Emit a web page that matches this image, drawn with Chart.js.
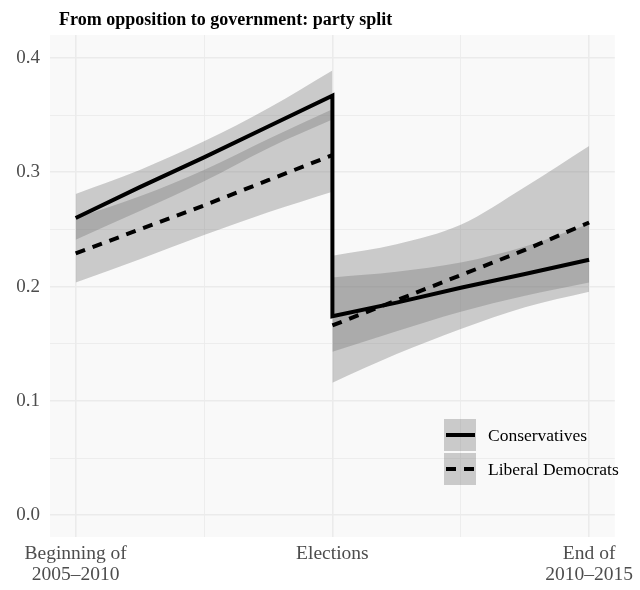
<!DOCTYPE html>
<html>
<head>
<meta charset="utf-8">
<script src="https://cdn.jsdelivr.net/npm/chart.js@4.4.1/dist/chart.umd.min.js"></script>
<style>
  html, body { margin: 0; padding: 0; background: #ffffff; }
  #wrap { width: 640px; height: 590px; }
</style>
</head>
<body>
<div id="wrap"><canvas id="chart" width="640" height="590"></canvas></div>
<script>
// x positions: 0 = beginning of 2005-2010, 1 = elections, 2 = end of 2010-2015
const seg1X = [0, 0.25, 0.5, 0.75, 1];
const seg2X = [1, 1.25, 1.5, 1.75, 2];

// Conservatives (solid line, narrower band)
const conLine1 = [0.260, 0.287, 0.313, 0.340, 0.367];
const conLine2 = [0.174, 0.186, 0.199, 0.211, 0.2235];
const conHigh1 = [0.281, 0.302, 0.327, 0.356, 0.389];
const conLow1  = [0.241, 0.266, 0.292, 0.321, 0.346];
const conHigh2 = [0.208, 0.213, 0.221, 0.235, 0.255];
const conLow2  = [0.143, 0.161, 0.178, 0.192, 0.2035];

// Liberal Democrats (dashed line, wider band)
const ldLine1 = [0.229, 0.250, 0.271, 0.293, 0.315];
const ldLine2 = [0.166, 0.188, 0.210, 0.232, 0.256];
const ldHigh1 = [0.260, 0.279, 0.302, 0.329, 0.355];
const ldLow1  = [0.2035, 0.224, 0.245, 0.265, 0.283];
const ldHigh2 = [0.227, 0.237, 0.254, 0.287, 0.323];
const ldLow2  = [0.116, 0.141, 0.163, 0.182, 0.1955];

// axis ticks
const xTickVals = [0, 0.5, 1, 1.5, 2];
const xTickLabels = [['Beginning of', '2005\u20132010'], '', 'Elections', '', ['End of', '2010\u20132015']];
const yTickVals = [0, 0.05, 0.1, 0.15, 0.2, 0.25, 0.3, 0.35, 0.4];
const yTickLabels = ['0.0', '', '0.1', '', '0.2', '', '0.3', '', '0.4'];

const seriesNames = ['Conservatives', 'Liberal Democrats'];
const titleText = 'From opposition to government: party split';

const SERIF = "'Liberation Serif', 'Times New Roman', serif";
const RIBBON = 'rgba(111,111,111,0.34)';
const DASH = [10, 8];

const pts = (xs, ys) => xs.map((x, i) => ({x, y: ys[i]}));

function lineSet(label, data, dash) {
  return {
    label, data,
    borderColor: '#000000', borderWidth: 4, borderDash: dash,
    borderCapStyle: 'butt', borderJoinStyle: 'miter',
    pointRadius: 0, fill: false, tension: 0
  };
}
function edgeSet(data, fillTo) {
  return {
    data, borderWidth: 0, borderColor: 'rgba(0,0,0,0)',
    backgroundColor: RIBBON, pointRadius: 0,
    cubicInterpolationMode: 'monotone',
    fill: fillTo === undefined ? false : fillTo
  };
}

// index 0 is drawn last (on top)
const datasets = [
  lineSet(seriesNames[0], pts(seg1X, conLine1).concat(pts(seg2X, conLine2)), []),  // 0
  lineSet(seriesNames[1], pts(seg1X, ldLine1), DASH),   // 1
  lineSet(seriesNames[1], pts(seg2X, ldLine2), DASH),   // 2
  edgeSet(pts(seg1X, conHigh1)),          // 3
  edgeSet(pts(seg1X, conLow1), 3),        // 4
  edgeSet(pts(seg2X, conHigh2)),          // 5
  edgeSet(pts(seg2X, conLow2), 5),        // 6
  edgeSet(pts(seg1X, ldHigh1)),           // 7
  edgeSet(pts(seg1X, ldLow1), 7),         // 8
  edgeSet(pts(seg2X, ldHigh2)),           // 9
  edgeSet(pts(seg2X, ldLow2), 9)          // 10
];

// panel background
const panelBg = {
  id: 'panelBg',
  beforeDraw(chart) {
    const a = chart.chartArea, ctx = chart.ctx;
    ctx.save();
    ctx.fillStyle = '#f9f9f9';
    ctx.fillRect(a.left, a.top, a.right - a.left, a.bottom - a.top);
    ctx.restore();
  }
};

// title + legend inside the panel
const extras = {
  id: 'extras',
  afterDraw(chart) {
    const ctx = chart.ctx;
    ctx.save();
    ctx.fillStyle = '#000';
    ctx.font = 'bold 18px ' + SERIF;
    ctx.textBaseline = 'alphabetic';
    ctx.textAlign = 'left';
    ctx.fillText(titleText, 59, 25);

    const keyX = 444, keyW = 32, keyH = 32;
    const keyTops = [419, 453];
    const dashes = [[], DASH];
    seriesNames.forEach((name, i) => {
      const top = keyTops[i];
      ctx.fillStyle = RIBBON;
      ctx.fillRect(keyX, top, keyW, keyH);
      const cy = top + keyH / 2;
      ctx.strokeStyle = '#000';
      ctx.lineWidth = 4;
      ctx.lineCap = 'butt';
      ctx.setLineDash(dashes[i]);
      ctx.beginPath();
      ctx.moveTo(keyX + 2, cy);
      ctx.lineTo(keyX + keyW - 1, cy);
      ctx.stroke();
      ctx.setLineDash([]);
      ctx.fillStyle = '#000';
      ctx.font = '17.5px ' + SERIF;
      ctx.textBaseline = 'middle';
      ctx.fillText(name, 488, cy + 1);
    });
    ctx.restore();
  }
};

new Chart(document.getElementById('chart'), {
  type: 'line',
  data: {datasets},
  options: {
    responsive: false,
    animation: false,
    layout: {padding: {top: 35, right: 22, left: 0, bottom: 0}},
    plugins: {legend: {display: false}, tooltip: {enabled: false}, title: {display: false}},
    scales: {
      x: {
        type: 'linear', min: -0.1, max: 2.1,
        afterBuildTicks: s => { s.ticks = xTickVals.map(v => ({value: v})); },
        afterFit: s => { s.height = 53; },
        ticks: {
          autoSkip: false, maxRotation: 0, padding: 6,
          color: '#4d4d4d', font: {family: SERIF, size: 19.5, lineHeight: 1.1},
          callback: (v, i) => xTickLabels[i]
        },
        grid: {
          color: '#ebebeb', drawTicks: false,
          lineWidth: c => (c.tick && Number.isInteger(c.tick.value)) ? 1.6 : 0.9
        },
        border: {display: false}
      },
      y: {
        type: 'linear', min: -0.019, max: 0.42,
        afterBuildTicks: s => { s.ticks = yTickVals.map(v => ({value: v})); },
        afterFit: s => { s.width = 50; },
        ticks: {
          padding: 10, color: '#4d4d4d',
          font: {family: SERIF, size: 19},
          callback: (v, i) => yTickLabels[i]
        },
        grid: {
          color: '#ebebeb', drawTicks: false,
          lineWidth: c => (c.index % 2 === 0) ? 1.6 : 0.9
        },
        border: {display: false}
      }
    }
  },
  plugins: [panelBg, extras]
});
</script>
</body>
</html>
